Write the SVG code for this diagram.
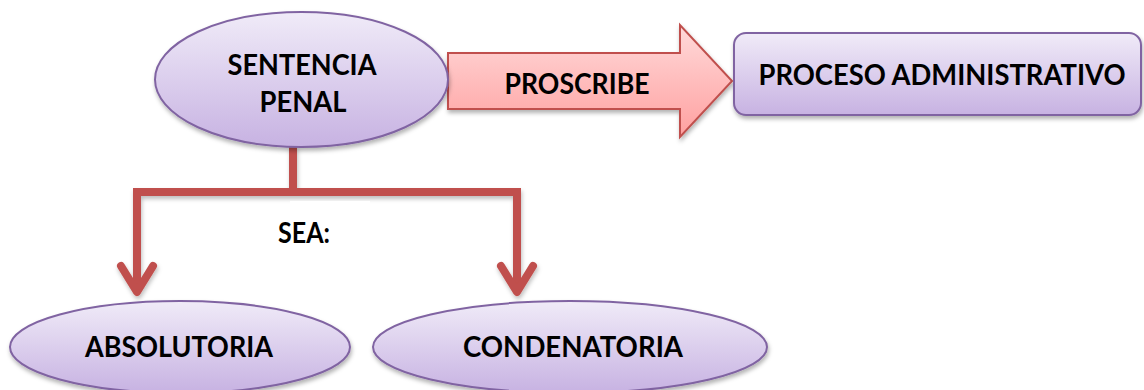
<svg xmlns="http://www.w3.org/2000/svg" width="1144" height="390" viewBox="0 0 1144 390">
  <defs>
    <linearGradient id="lilac" x1="0" y1="0" x2="0" y2="1">
      <stop offset="0" stop-color="#f0ebf8"/>
      <stop offset="1" stop-color="#c7b2e2"/>
    </linearGradient>
    <linearGradient id="rose" x1="0" y1="0" x2="0" y2="1">
      <stop offset="0" stop-color="#ffdada"/>
      <stop offset="1" stop-color="#ffa0a0"/>
    </linearGradient>
    <filter id="shadow" x="-10%" y="-10%" width="120%" height="130%">
      <feDropShadow dx="1" dy="3" stdDeviation="2" flood-color="#000" flood-opacity="0.3"/>
    </filter>
    <filter id="lineShadow" x="-10%" y="-20%" width="120%" height="150%">
      <feDropShadow dx="1" dy="3" stdDeviation="2" flood-color="#000" flood-opacity="0.25"/>
    </filter>
  </defs>
  <style>
    .node { fill: url(#lilac); stroke: #8064a2; stroke-width: 2; filter: url(#shadow); }
    .arrow { fill: url(#rose); stroke: #c0504d; stroke-width: 2; filter: url(#shadow); }
    .link { fill: none; stroke: #c0504d; stroke-width: 8; stroke-linejoin: miter; }
    .tip { fill: none; stroke: #c0504d; stroke-width: 8; stroke-linecap: round; stroke-linejoin: round; }
    .label { font-family: Lato, "Liberation Sans", sans-serif; font-weight: bold; font-size: 28px; fill: #000; text-anchor: middle; }
  </style>

  <rect width="1144" height="390" fill="#ffffff"/>

  <!-- connectors: branching tree under the sentence node -->
  <g id="connectors" filter="url(#lineShadow)">
    <path class="link" d="M293 146 V192 M133 192 H521 M137 188 V292 M517 188 V292"/>
    <polyline class="tip" points="121,266 137,292 153,266"/>
    <polyline class="tip" points="501,266 517,292 533,266"/>
  </g>

  <!-- text box for the branch label -->
  <g id="sea">
    <rect x="290" y="201" width="80" height="52" fill="#ffffff"/>
    <text class="label" x="304" y="243" textLength="52" lengthAdjust="spacingAndGlyphs">SEA:</text>
  </g>

  <g id="proscribe">
    <polygon class="arrow" points="448,53 680,53 680,25 732,81 680,137 680,109 448,109"/>
    <text class="label" x="577" y="94" textLength="145" lengthAdjust="spacingAndGlyphs">PROSCRIBE</text>
  </g>

  <g id="sentencia-penal">
    <ellipse class="node" cx="301.5" cy="79.5" rx="146.5" ry="67.5"/>
    <text class="label" x="302" y="75" textLength="149" lengthAdjust="spacingAndGlyphs">SENTENCIA</text>
    <text class="label" x="303" y="112" textLength="87" lengthAdjust="spacingAndGlyphs">PENAL</text>
  </g>

  <g id="proceso-administrativo">
    <rect class="node" x="734" y="33" width="407" height="82" rx="12" ry="12"/>
    <text class="label" x="942" y="85" textLength="367" lengthAdjust="spacingAndGlyphs">PROCESO ADMINISTRATIVO</text>
  </g>

  <g id="absolutoria">
    <ellipse class="node" cx="180" cy="347" rx="170" ry="46"/>
    <text class="label" x="179" y="357" textLength="188" lengthAdjust="spacingAndGlyphs">ABSOLUTORIA</text>
  </g>

  <g id="condenatoria">
    <ellipse class="node" cx="570" cy="347" rx="197" ry="46"/>
    <text class="label" x="573" y="357" textLength="220" lengthAdjust="spacingAndGlyphs">CONDENATORIA</text>
  </g>
</svg>
